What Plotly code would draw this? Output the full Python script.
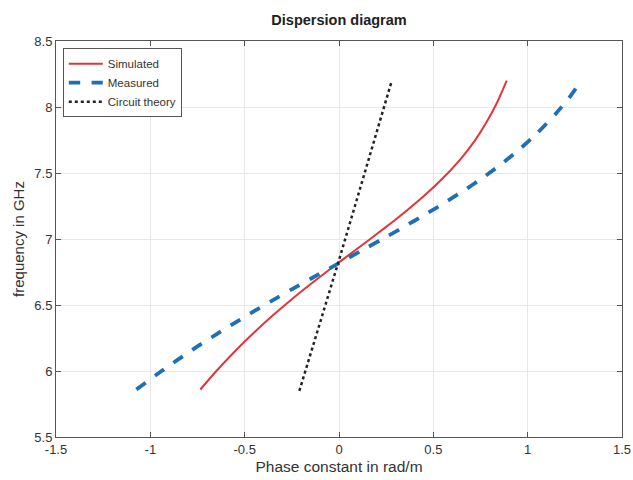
import plotly.graph_objects as go

# Simulated (red)
sim_beta = [-0.735, -0.65, -0.55, -0.45, -0.35, -0.25, -0.15, -0.05, 0.05, 0.15,
            0.25, 0.35, 0.45, 0.55, 0.65, 0.72, 0.78, 0.84, 0.889]
sim_freq = [5.86, 6.00, 6.152, 6.292, 6.422, 6.544, 6.659, 6.769, 6.876, 6.983,
            7.092, 7.205, 7.325, 7.46, 7.615, 7.745, 7.88, 8.04, 8.20]

# Measured (blue)
meas_beta = [-1.074, -0.95, -0.85, -0.75, -0.65, -0.55, -0.45, -0.35, -0.25, -0.15,
             -0.05, 0.05, 0.15, 0.25, 0.35, 0.45, 0.55, 0.65, 0.75, 0.85,
             0.95, 1.05, 1.15, 1.22, 1.28]
meas_freq = [5.86, 5.99, 6.09, 6.186, 6.278, 6.367, 6.453, 6.537, 6.619, 6.699,
             6.778, 6.857, 6.936, 7.016, 7.097, 7.18, 7.266, 7.356, 7.452, 7.556,
             7.671, 7.801, 7.951, 8.07, 8.19]

# Circuit theory (black dotted)
ckt_beta = [-0.21, 0.0, 0.28]
ckt_freq = [5.85, 6.84, 8.20]

x_ticks = [-1.5, -1, -0.5, 0, 0.5, 1, 1.5]
x_tick_text = ["-1.5", "-1", "-0.5", "0", "0.5", "1", "1.5"]
y_ticks = [5.5, 6, 6.5, 7, 7.5, 8, 8.5]
y_tick_text = ["5.5", "6", "6.5", "7", "7.5", "8", "8.5"]

FONT = "Liberation Sans, Arial, sans-serif"

fig = go.Figure()
fig.add_trace(go.Scatter(x=sim_beta, y=sim_freq, mode="lines", name="Simulated",
                         line=dict(color="#e0353a", width=2, shape="spline", smoothing=0.6)))
fig.add_trace(go.Scatter(x=meas_beta, y=meas_freq, mode="lines", name="Measured",
                         line=dict(color="#1f6fb4", width=3.8, dash="dash", shape="spline", smoothing=0.6)))
fig.add_trace(go.Scatter(x=ckt_beta, y=ckt_freq, mode="lines", name="Circuit theory",
                         line=dict(color="#222222", width=2.5, dash="dot")))

axis_common = dict(showgrid=True, gridcolor="#e8e8e8", gridwidth=1, zeroline=False,
                   showline=True, linecolor="#555555", linewidth=1, mirror="ticks",
                   ticks="inside", ticklen=5, tickcolor="#555555", automargin=False,
                   tickfont=dict(family=FONT, size=13, color="#333333"))

fig.update_xaxes(range=[-1.5, 1.5], tickvals=x_ticks, ticktext=x_tick_text,
                 title=dict(text="Phase constant in rad/m", standoff=5,
                            font=dict(family=FONT, size=15.5, color="#333333")),
                 **axis_common)
fig.update_yaxes(range=[5.5, 8.5], tickvals=y_ticks, ticktext=y_tick_text,
                 title=dict(text="frequency in GHz", standoff=6,
                            font=dict(family=FONT, size=15, color="#333333")),
                 **axis_common)

fig.update_layout(
    width=633, height=480,
    margin=dict(l=56, r=11, t=41, b=43),
    paper_bgcolor="white", plot_bgcolor="white",
    title=dict(text="<b>Dispersion diagram</b>", x=0.5, xanchor="center", y=0.958, yanchor="middle",
               xref="paper",
               font=dict(family=FONT, size=14.5, color="#222222")),
    legend=dict(x=0.012, y=0.982, xanchor="left", yanchor="top",
                bgcolor="white", bordercolor="#555555", borderwidth=1,
                font=dict(family=FONT, size=11.5, color="#333333"),
                itemwidth=34, tracegroupgap=0),
    showlegend=True,
)

fig.write_html("out.html")
